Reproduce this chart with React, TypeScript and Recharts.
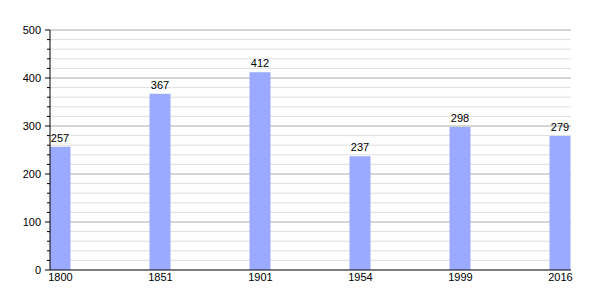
import { BarChart, Bar, XAxis, YAxis, CartesianGrid, LabelList } from "recharts";

const years = ["1800", "1851", "1901", "1954", "1999", "2016"];
const population = [257, 367, 412, 237, 298, 279];
const yTicks = [0, 20, 40, 60, 80, 100, 120, 140, 160, 180, 200, 220, 240, 260, 280, 300, 320, 340, 360, 380, 400, 420, 440, 460, 480, 500];
const majorTicks = [100, 200, 300, 400, 500];
const minorTicks = yTicks.filter((t) => t % 100 !== 0);

const data = years.map((year, i) => ({ idx: i, year, value: population[i] }));

const AXIS_X = 50;

function YTick({ y, payload }: any) {
  const v = payload.value as number;
  const major = v % 100 === 0;
  return (
    <g>
      <line x1={AXIS_X - (major ? 5 : 3)} x2={AXIS_X} y1={y} y2={y} stroke="#000" />
      {major && (
        <text x={AXIS_X - 9} y={y} dy="0.35em" textAnchor="end" fontSize={11} fill="#000">
          {v}
        </text>
      )}
    </g>
  );
}

export default function App() {
  return (
    <div style={{ position: "absolute", left: 0, top: 0, fontFamily: "'Liberation Sans', Arial, sans-serif", background: "#fff" }}>
      <BarChart width={600} height={300} data={data} margin={{ top: 30, right: 29, left: 0, bottom: 0 }}>
        <CartesianGrid vertical={false} horizontalValues={minorTicks} stroke="#dedede" />
        <CartesianGrid vertical={false} horizontalValues={majorTicks} stroke="#aaaaaa" />
        <XAxis
          type="number"
          dataKey="idx"
          domain={[-0.105, 5.105]}
          ticks={[0, 1, 2, 3, 4, 5]}
          tickFormatter={(i: number) => years[i]}
          tickLine={false}
          tickSize={0}
          tickMargin={3}
          height={30}
          axisLine={{ stroke: "#000" }}
          tick={{ fill: "#000", fontSize: 11 }}
          allowDataOverflow
        />
        <YAxis
          type="number"
          domain={[0, 500]}
          ticks={yTicks}
          interval={0}
          width={50}
          tickLine={false}
          axisLine={{ stroke: "#000" }}
          tick={<YTick />}
        />
        <Bar dataKey="value" fill="#99aaff" barSize={21} isAnimationActive={false}>
          <LabelList dataKey="value" position="top" offset={5} fill="#000" fontSize={11} />
        </Bar>
      </BarChart>
    </div>
  );
}
